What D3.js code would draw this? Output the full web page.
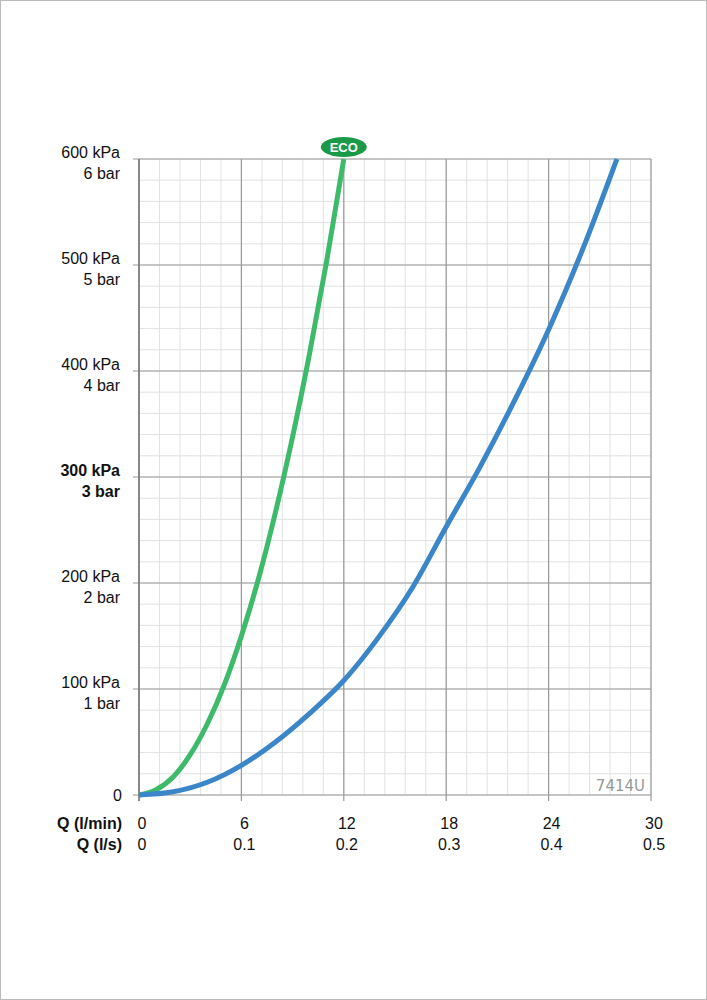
<!DOCTYPE html>
<html><head><meta charset="utf-8">
<script src="https://cdn.jsdelivr.net/npm/d3@7"></script>
<style>body{margin:0;background:#fff}svg{display:block;font-family:"Liberation Sans",Arial,sans-serif}</style>
</head><body><svg id="chart" width="707" height="1000"></svg>
<script>
// Data
const ecoFlow = [0, 1, 2, 3, 4, 5, 6, 7, 8, 9, 10, 11, 12];
const ecoKpa = [0, 5, 17, 38, 67, 104, 150, 204, 267, 338, 417, 504, 600];
const stdFlow = [0, 2, 4, 6, 8, 10, 12, 14, 16, 18, 20, 22, 24, 26, 28];
const stdKpa = [0, 3, 12, 28, 50, 77, 108, 148, 195, 253, 310, 372, 439, 515, 600];
const yTicks = [100, 200, 300, 400, 500, 600];
const xTicks = [0, 6, 12, 18, 24, 30];
const xTicksLs = ['0', '0.1', '0.2', '0.3', '0.4', '0.5'];

const svg = d3.select('#chart');
svg.append('rect').attr('x', 0.5).attr('y', 0.5).attr('width', 706).attr('height', 999)
    .attr('fill', 'none').attr('stroke', '#bbb');

const x = d3.scaleLinear().domain([0, 30]).range([139, 651]);
const y = d3.scaleLinear().domain([0, 600]).range([795, 159]);

// minor grid
const g = svg.append('g');
g.selectAll('.mx').data(d3.range(0, 30.01, 1.2)).enter().append('line')
    .attr('x1', d => x(d)).attr('x2', d => x(d)).attr('y1', y(0)).attr('y2', y(600))
    .attr('stroke', '#e2e2e2').attr('stroke-width', 1);
g.selectAll('.my').data(d3.range(0, 600.1, 20)).enter().append('line')
    .attr('y1', d => y(d)).attr('y2', d => y(d)).attr('x1', x(0)).attr('x2', x(30))
    .attr('stroke', '#e2e2e2').attr('stroke-width', 1);
// major grid
g.selectAll('.Mx').data(xTicks).enter().append('line')
    .attr('x1', d => x(d)).attr('x2', d => x(d)).attr('y1', y(0) + 6).attr('y2', y(600))
    .attr('stroke', '#999').attr('stroke-width', 1.2);
g.selectAll('.My').data([0].concat(yTicks)).enter().append('line')
    .attr('y1', d => y(d)).attr('y2', d => y(d)).attr('x1', x(0) - 6).attr('x2', x(30))
    .attr('stroke', '#999').attr('stroke-width', 1.2);
g.append('line').attr('x1', x(0)).attr('x2', x(0)).attr('y1', y(0) + 6).attr('y2', y(600))
    .attr('stroke', '#777').attr('stroke-width', 1.5);

// y labels
const yl = svg.append('g').attr('font-size', 16).attr('fill', '#111').attr('text-anchor', 'end');
yTicks.forEach(v => {
    const t = yl.append('text').attr('x', 120).attr('font-weight', v === 300 ? 'bold' : null);
    t.append('tspan').attr('x', 120).attr('y', y(v) - 1).text(v + ' kPa');
    t.append('tspan').attr('x', 120).attr('y', y(v) + 20).text(v / 100 + ' bar');
});
yl.append('text').attr('x', 122).attr('y', y(0) + 6).text('0');

// x labels
const xl = svg.append('g').attr('font-size', 16).attr('fill', '#111');
xl.append('text').attr('x', 122).attr('y', 829).attr('text-anchor', 'end').attr('font-weight', 'bold').text('Q (l/min)');
xl.append('text').attr('x', 122).attr('y', 850).attr('text-anchor', 'end').attr('font-weight', 'bold').text('Q (l/s)');
xl.selectAll('.a').data(xTicks).enter().append('text').attr('x', d => x(d) + 3).attr('y', 829)
    .attr('text-anchor', 'middle').text(d => d);
xl.selectAll('.b').data(xTicksLs).enter().append('text').attr('x', (d, i) => x(xTicks[i]) + 3).attr('y', 850)
    .attr('text-anchor', 'middle').text(d => d);

svg.append('text').attr('x', 645).attr('y', 791).attr('text-anchor', 'end').attr('font-size', 15)
    .attr('font-family', 'DejaVu Sans').attr('fill', '#999').text('7414U');

// curves
const line = d3.line().curve(d3.curveMonotoneX);
svg.append('path').attr('d', line(ecoFlow.map((f, i) => [x(f), y(ecoKpa[i])])))
    .attr('fill', 'none').attr('stroke', '#3dba6a').attr('stroke-width', 5);
svg.append('path').attr('d', line(stdFlow.map((f, i) => [x(f), y(stdKpa[i])])))
    .attr('fill', 'none').attr('stroke', '#3a86c8').attr('stroke-width', 5);

// ECO badge
svg.append('ellipse').attr('cx', x(12)).attr('cy', 147).attr('rx', 23).attr('ry', 10).attr('fill', '#1a9a48');
svg.append('text').attr('x', x(12)).attr('y', 152).attr('text-anchor', 'middle').attr('font-size', 13)
    .attr('font-weight', 'bold').attr('fill', '#fff').text('ECO');
</script></body></html>
